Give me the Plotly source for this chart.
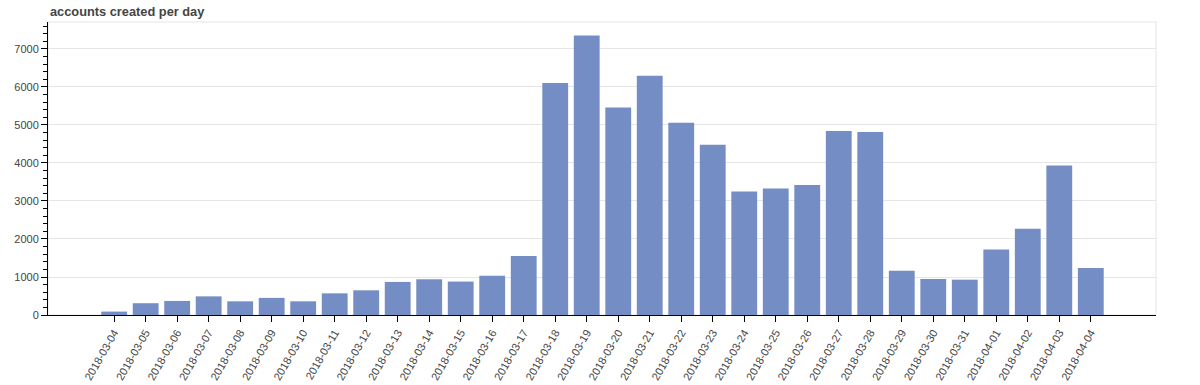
import plotly.graph_objects as go

dates = ["2018-03-04", "2018-03-05", "2018-03-06", "2018-03-07", "2018-03-08", "2018-03-09",
         "2018-03-10", "2018-03-11", "2018-03-12", "2018-03-13", "2018-03-14", "2018-03-15",
         "2018-03-16", "2018-03-17", "2018-03-18", "2018-03-19", "2018-03-20", "2018-03-21",
         "2018-03-22", "2018-03-23", "2018-03-24", "2018-03-25", "2018-03-26", "2018-03-27",
         "2018-03-28", "2018-03-29", "2018-03-30", "2018-03-31", "2018-04-01", "2018-04-02",
         "2018-04-03", "2018-04-04"]
accounts = [90, 310, 370, 490, 360, 450,
            360, 570, 650, 870, 940, 880,
            1030, 1550, 6105, 7358, 5463, 6297,
            5060, 4482, 3253, 3332, 3421, 4842,
            4816, 1166, 947, 930, 1726, 2271,
            3937, 1237]

title_text = "accounts created per day"
bar_color = "#748DC4"

fig = go.Figure(go.Bar(x=dates, y=accounts, marker=dict(color=bar_color, line=dict(width=0)),
                       width=0.82))

font_family = "Liberation Sans, Arial, sans-serif"
plot_h = 385 - 22 - 70

fig.update_layout(
    width=1200, height=385,
    margin=dict(l=48, r=44, t=22, b=70, pad=0),
    paper_bgcolor="white", plot_bgcolor="white",
    showlegend=False,
    font=dict(family=font_family, size=11, color="#444444"),
    annotations=[dict(text="<b>" + title_text + "</b>", xref="paper", yref="paper",
                      x=0, y=1 + 11 / plot_h, xanchor="left", yanchor="middle", showarrow=False,
                      font=dict(size=12.8, color="#444444", family=font_family))],
    shapes=[dict(type="rect", xref="paper", yref="paper", x0=0, x1=1, y0=0, y1=1,
                 line=dict(color="#e5e5e5", width=1), layer="below")],
)

fig.update_xaxes(
    type="category", range=[-2.1, 33.07], automargin=False,
    showgrid=False, zeroline=False,
    showline=True, linecolor="black", linewidth=1,
    ticks="outside", ticklen=6, tickcolor="black", tickwidth=1,
    tickangle=-60, tickfont=dict(size=11, color="#444444"),
)
fig.update_yaxes(
    range=[0, 7710], dtick=1000, tick0=0, automargin=False,
    showgrid=True, gridcolor="#e5e5e5", gridwidth=1, zeroline=False,
    showline=True, linecolor="black", linewidth=1,
    ticks="outside", ticklen=6, tickcolor="black", tickwidth=1,
    tickfont=dict(size=11, color="#444444"),
    minor=dict(dtick=200, ticks="outside", ticklen=4, tickcolor="black", showgrid=False),
)

fig.write_html("out.html", config={"displayModeBar": False},
               post_script="document.body.style.margin='0';")
